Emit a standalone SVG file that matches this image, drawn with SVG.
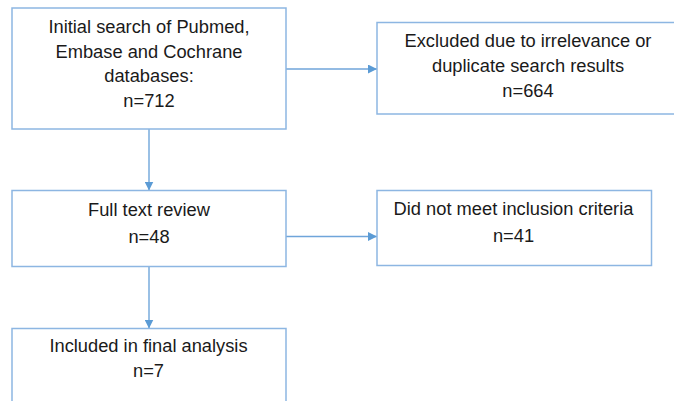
<svg xmlns="http://www.w3.org/2000/svg" width="674" height="401" viewBox="0 0 674 401">
<defs>
<marker id="arr" viewBox="0 0 10 10" refX="10" refY="5" markerWidth="9" markerHeight="9" markerUnits="userSpaceOnUse" orient="auto">
<path d="M0,0 L10,5 L0,10 Z" fill="#5B9BD5"/>
</marker>
<style>
.box{fill:#ffffff;stroke:#8DB6E2;stroke-width:1.5}
.lbl{font-family:"Liberation Sans",Arial,sans-serif;font-size:18.3px;fill:#1a1a1a;text-anchor:middle}
.con{stroke:#6FA5DA;stroke-width:1.4;fill:none}
</style>
</defs>
<rect width="674" height="401" fill="#ffffff"/>
<g id="connectors">
<line class="con" x1="286" y1="69" x2="377" y2="69" marker-end="url(#arr)"/>
<line class="con" x1="149" y1="129" x2="149" y2="190.5" marker-end="url(#arr)"/>
<line class="con" x1="286" y1="236.5" x2="377" y2="236.5" marker-end="url(#arr)"/>
<line class="con" x1="149" y1="266.5" x2="149" y2="328.5" marker-end="url(#arr)"/>
</g>
<g id="n1">
<rect class="box" x="12" y="8" width="274" height="121"/>
<text class="lbl" x="149" y="33">Initial search of Pubmed,</text>
<text class="lbl" x="149" y="57.5">Embase and Cochrane</text>
<text class="lbl" x="149" y="82">databases:</text>
<text class="lbl" x="149" y="107">n=712</text>
</g>
<g id="n2">
<rect class="box" x="377" y="22.5" width="310" height="91.5"/>
<text class="lbl" x="528" y="47">Excluded due to irrelevance or</text>
<text class="lbl" x="528" y="72">duplicate search results</text>
<text class="lbl" x="528" y="97">n=664</text>
</g>
<g id="n3">
<rect class="box" x="12" y="190.5" width="274" height="76"/>
<text class="lbl" x="149" y="216">Full text review</text>
<text class="lbl" x="149" y="243">n=48</text>
</g>
<g id="n4">
<rect class="box" x="377" y="190.5" width="274.5" height="75"/>
<text class="lbl" x="513.5" y="215">Did not meet inclusion criteria</text>
<text class="lbl" x="513.5" y="241.5">n=41</text>
</g>
<g id="n5">
<rect class="box" x="12" y="328.5" width="274" height="90"/>
<text class="lbl" x="148.5" y="351.5">Included in final analysis</text>
<text class="lbl" x="148.5" y="376.5">n=7</text>
</g>
</svg>
